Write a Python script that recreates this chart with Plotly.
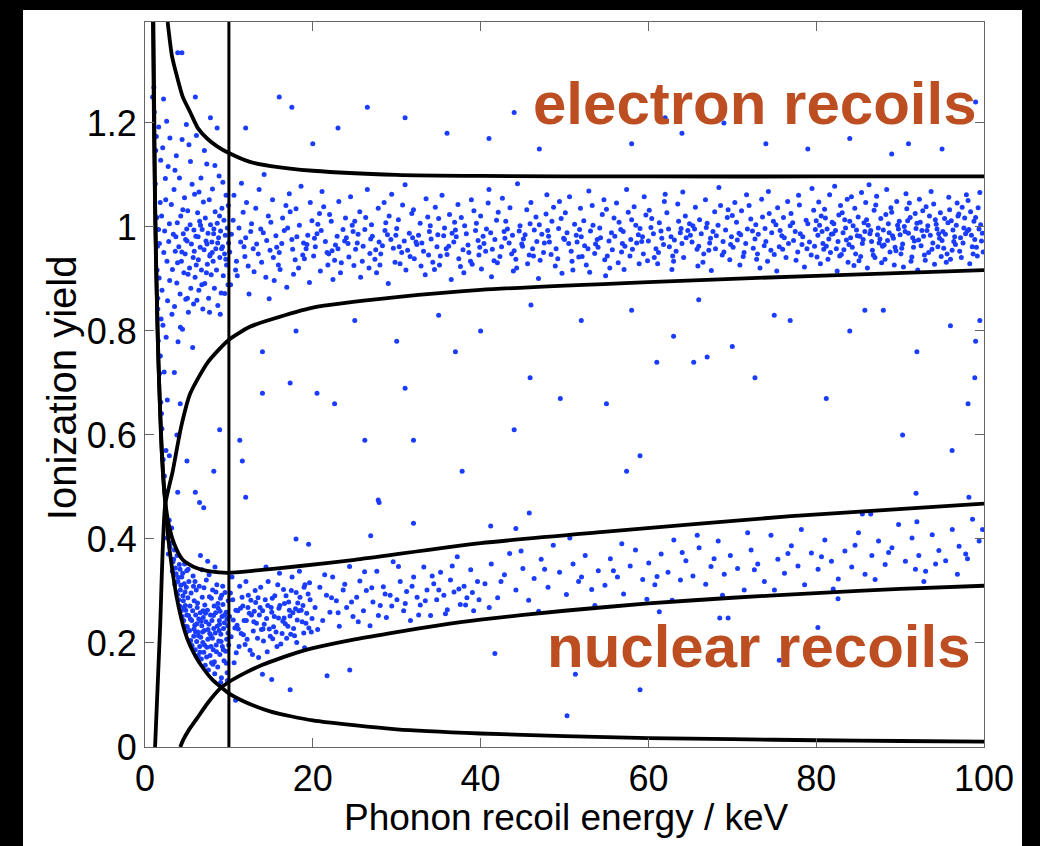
import plotly.graph_objects as go

# ---------------- data ----------------
x_ticks = [0, 20, 40, 60, 80, 100]
x_tick_labels = ["0", "20", "40", "60", "80", "100"]
y_ticks = [0, 0.2, 0.4, 0.6, 0.8, 1.0, 1.2]
y_tick_labels = ["0", "0.2", "0.4", "0.6", "0.8", "1", "1.2"]

# electron-recoil band points (energy keV, yield)
er_points = [
    (1.12,1.221),(1.28,1.147),(1.23,1.083),(1.63,1.192),(1.41,1.018),(1.87,1.128),(2.21,1.246),(1.72,0.968),(2.47,1.052),(1.44,0.917),
    (2.03,0.878),(1.53,0.842),(2.76,1.116),(1.81,1.047),(2.34,0.992),(1.58,0.781),(2.62,0.934),(1.74,0.718),(2.91,1.006),(1.88,0.663),
    (2.14,0.811),(2.02,0.612),(2.69,0.858),(2.17,0.553),(2.43,1.093),(1.69,0.902),(2.24,0.951),(1.52,0.863),(1.98,1.021),(1.49,0.963),
    (2.83,0.972),(1.83,0.752),(2.42,0.492),(2.31,0.521),(2.52,0.788),(1.96,0.641),(2.94,0.897),(1.06,1.268),(2.97,1.171),(2.58,1.203),
    (1.35,1.174),(1.92,0.823),(2.28,0.721),(2.66,0.667),(1.62,0.995),(2.11,1.152),
    (3.14,1.043),(3.27,0.918),(3.38,0.986),(3.46,1.072),(3.52,0.847),(3.61,0.953),(3.73,1.137),(3.79,0.892),(3.85,1.008),(3.94,0.779),
    (4.03,0.962),(4.11,1.094),(4.18,0.871),(4.26,1.021),(4.34,0.934),(4.42,1.168),(4.47,0.803),(4.56,0.987),(4.63,0.912),(4.71,1.056),
    (4.79,0.948),(4.86,0.861),(4.93,1.197),(5.02,0.973),(5.09,1.031),(5.17,0.836),(5.24,1.158),(5.31,0.921),(5.38,1.004),(5.46,0.882),
    (5.53,0.967),(5.61,1.082),(5.68,0.768),(5.74,0.941),(5.83,0.994),(5.91,1.063),(5.97,0.903),(6.06,0.982),(6.13,1.176),(6.19,0.859),
    (6.27,1.027),(6.36,0.937),(6.42,0.878),(6.51,1.011),(6.58,0.961),(6.67,1.094),(6.73,0.917),(6.81,0.995),(6.89,0.842),(6.96,1.048),
    (7.04,0.956),(7.12,0.891),(7.19,1.017),(7.27,0.973),(7.36,1.121),(7.43,0.928),(7.51,0.988),(7.58,0.863),(7.66,1.052),(7.72,0.944),
    (7.81,1.004),(7.89,0.908),(7.97,0.971),(8.04,1.073),(8.12,0.934),(8.21,0.996),(8.27,0.882),(8.36,1.029),(8.44,0.958),(8.52,0.917),
    (8.61,1.007),(8.68,0.849),(8.77,0.979),(8.83,1.098),(8.92,0.941),(9.01,0.992),(9.08,0.873),(9.17,1.036),(9.24,0.962),(9.33,0.906),
    (9.41,1.013),(9.48,0.948),(9.57,0.984),(9.66,1.061),(9.72,0.927),(9.81,0.998),(9.89,0.889),(9.96,0.969),
    (3.21,0.832),(3.57,1.109),(3.88,0.931),(4.22,0.807),(4.51,1.033),(4.84,0.976),(5.13,0.909),(5.42,1.126),(5.79,0.852),(6.11,0.927),
    (6.44,1.067),(6.77,0.889),(7.08,1.147),(7.39,0.967),(7.69,0.836),(8.01,0.951),(8.33,1.118),(8.66,0.969),(8.97,0.832),(9.28,1.086),
    (9.63,0.938),(9.93,1.041),(3.68,0.981),(4.39,0.952),(5.06,0.863),(5.87,0.953),(6.62,1.003),(7.32,0.912),(8.18,0.987),(8.89,1.021),
    (9.51,0.872),(4.97,0.996),(6.33,0.981),(7.77,0.947),(9.13,0.958),
    (10.1,0.952),(10.5,1.013),(10.8,0.917),(10.3,0.986),(10.6,1.061),(10.9,0.934),(10.2,0.889),
    (11.4,0.971),(11.7,1.028),(11.0,0.906),(11.2,0.998),(11.9,0.943),(11.5,1.084),(11.8,0.962),
    (12.3,0.925),(12.6,0.991),(12.1,1.047),(12.9,0.958),(12.4,0.871),(12.7,1.006),(12.0,0.979),
    (13.2,1.036),(13.5,0.948),(13.8,0.996),(13.0,0.914),(13.6,1.072),(13.3,0.967),(13.9,0.932),
    (14.1,0.989),(14.4,0.903),(14.7,1.021),(14.9,0.955),(14.2,1.101),(14.5,0.974),(14.8,0.862),
    (15.3,0.941),(15.0,1.009),(15.6,0.983),(15.9,0.927),(15.2,1.052),(15.7,0.961),(15.4,0.897),
    (16.6,0.993),(16.1,0.918),(16.8,1.041),(16.3,0.968),(16.9,0.884),(16.4,1.017),(16.0,0.951),
    (17.5,0.976),(17.2,1.064),(17.9,0.937),(17.0,0.998),(17.7,0.909),(17.3,1.029),(17.6,0.957),
    (18.4,1.003),(18.8,0.946),(18.1,0.981),(18.6,1.078),(18.3,0.921),(18.9,0.969),(18.0,1.035),
    (19.2,0.958),(19.6,0.893),(19.9,1.012),(19.4,0.984),(19.0,0.939),(19.7,1.047),(19.3,0.966),
    (20.5,0.987),(20.1,0.944),(20.8,1.026),(20.3,0.962),(20.9,0.915),(20.6,1.005),(20.2,0.978),
    (21.7,0.951),(21.3,1.039),(21.0,0.993),(21.8,0.927),(21.5,0.972),(21.1,1.068),(21.9,0.948),
    (22.2,1.011),(22.6,0.936),(22.9,0.982),(22.4,0.899),(22.0,1.024),(22.7,0.965),(22.3,0.954),
    (23.8,0.973),(23.1,1.049),(23.4,0.931),(23.6,0.995),(23.0,0.958),(23.9,1.017),(23.3,0.912),
    (24.3,0.942),(24.7,1.003),(24.0,0.979),(24.9,0.926),(24.5,1.058),(24.2,0.968),(24.8,0.991),
    (25.6,1.029),(25.1,0.957),(25.9,0.934),(25.4,0.986),(25.0,1.011),(25.7,0.903),(25.3,0.969),
    (26.2,0.995),(26.8,0.949),(26.5,1.072),(26.0,0.963),(26.7,0.921),(26.3,1.018),(26.9,0.977),
    (27.4,0.938),(27.1,0.982),(27.8,1.036),(27.5,0.956),(27.0,1.004),(27.6,0.912),(27.9,0.971),
    (28.7,1.008),(28.3,0.964),(28.0,0.927),(28.9,0.985),(28.5,1.047),(28.1,0.948),(28.6,0.993),
    (29.3,0.976),(29.8,0.932),(29.1,1.021),(29.6,0.959),(29.0,0.891),(29.4,1.063),(29.9,0.984),
    (30.6,0.951),(30.2,1.014),(30.9,0.973),(30.4,0.929),(30.0,0.997),(30.7,1.042),(30.3,0.962),
    (31.5,0.988),(31.1,0.917),(31.8,1.026),(31.3,0.955),(31.9,0.979),(31.6,0.943),(31.0,1.081),
    (32.4,0.966),(32.8,1.007),(32.1,0.939),(32.6,0.984),(32.0,1.033),(32.9,0.925),(32.3,0.971),
    (33.7,1.019),(33.2,0.953),(33.9,0.991),(33.4,0.908),(33.0,0.969),(33.5,1.054),(33.8,0.946),
    (34.1,0.977),(34.6,1.038),(34.3,0.932),(34.8,0.962),(34.0,1.002),(34.5,0.918),(34.9,0.985),
    (35.2,0.944),(35.7,0.998),(35.4,1.061),(35.9,0.958),(35.1,0.927),(35.6,0.983),(35.0,1.016),
    (36.8,0.971),(36.3,1.024),(36.0,0.947),(36.5,0.899),(36.9,1.009),(36.2,0.963),(36.6,0.988),
    (37.3,1.043),(37.9,0.956),(37.1,0.981),(37.6,0.924),(37.0,0.994),(37.7,1.018),(37.4,0.939),
    (38.5,0.965),(38.1,1.002),(38.8,0.934),(38.3,0.987),(38.9,1.052),(38.6,0.951),(38.0,0.912),
    (39.4,0.993),(39.8,0.946),(39.2,1.031),(39.7,0.974),(39.0,0.928),(39.5,1.007),(39.9,0.961),
    (40.3,0.982),(40.9,1.046),(40.6,0.953),(40.1,0.919),(40.7,0.996),(40.4,0.968),(40.0,1.021),
    (41.6,0.935),(41.2,0.989),(41.9,1.013),(41.4,0.957),(41.0,1.072),(41.7,0.976),(41.3,0.904),
    (42.1,1.028),(42.5,0.962),(42.8,0.991),(42.3,0.943),(42.9,0.978),(42.6,1.055),(42.0,0.931),
    (43.4,0.969),(43.0,1.011),(43.7,0.948),(43.2,0.996),(43.9,0.915),(43.5,1.037),(43.8,0.984),
    (44.7,1.002),(44.2,0.938),(44.9,0.967),(44.4,1.083),(44.0,0.954),(44.6,0.992),(44.3,0.921),
    (45.1,0.977),(45.5,1.033),(45.8,0.946),(45.3,0.985),(45.9,1.006),(45.6,0.929),(45.0,0.963),
    (46.6,1.019),(46.2,0.958),(46.9,0.901),(46.4,0.994),(46.0,1.047),(46.7,0.972),(46.3,0.944),
    (47.3,0.986),(47.8,1.025),(47.1,0.936),(47.6,0.969),(47.0,1.004),(47.5,0.951),(47.9,1.062),
    (48.4,0.947),(48.0,0.993),(48.7,1.038),(48.2,0.971),(48.9,0.925),(48.5,1.011),(48.1,0.982),
    (49.6,1.016),(49.2,0.939),(49.9,0.978),(49.4,1.049),(49.0,0.958),(49.7,0.911),(49.3,0.997),
    (50.5,0.968),(50.1,1.027),(50.8,0.953),(50.3,0.989),(50.9,0.934),(50.6,1.058),(50.0,0.976),
    (51.2,1.005),(51.7,0.942),(51.4,0.984),(51.9,1.036),(51.0,0.917),(51.5,0.971),(51.8,0.995),
    (52.8,0.958),(52.3,1.012),(52.0,0.981),(52.6,0.927),(52.9,1.069),(52.4,0.964),(52.1,0.943),
    (53.1,0.992),(53.6,0.949),(53.3,1.041),(53.9,0.976),(53.0,0.913),(53.4,1.003),(53.7,0.967),
    (54.5,1.024),(54.0,0.961),(54.8,0.937),(54.2,0.998),(54.7,1.052),(54.3,0.979),(54.9,0.906),
    (55.3,0.973),(55.9,1.017),(55.1,0.944),(55.6,0.989),(55.0,1.034),(55.7,0.956),(55.4,0.921),
    (56.7,0.995),(56.2,1.046),(56.9,0.968),(56.4,0.931),(56.0,0.982),(56.5,1.009),(56.8,0.952),
    (57.2,0.963),(57.6,1.028),(57.0,0.991),(57.8,0.944),(57.4,1.072),(57.9,0.976),(57.1,0.918),
    (58.5,1.003),(58.1,0.957),(58.8,0.985),(58.3,1.039),(58.9,0.929),(58.6,0.969),(58.0,1.014),
    (59.4,0.948),(59.0,0.997),(59.7,1.023),(59.2,0.972),(59.9,0.935),(59.5,1.058),(59.3,0.981),
    (60.6,0.987),(60.1,1.032),(60.9,0.958),(60.3,0.999),(60.7,0.941),(60.4,1.016),(60.0,0.973),
    (61.3,1.008),(61.8,0.966),(61.1,0.929),(61.5,0.992),(61.9,1.049),(61.6,0.978),(61.2,0.951),
    (62.7,0.981),(62.2,1.027),(62.9,0.944),(62.4,0.996),(62.0,1.063),(62.5,0.962),(62.8,0.918),
    (63.1,0.975),(63.6,1.011),(63.3,0.953),(63.8,0.989),(63.0,0.934),(63.5,1.044),(63.9,0.997),
    (64.4,1.021),(64.0,0.968),(64.7,0.993),(64.2,0.941),(64.9,1.006),(64.5,0.979),(64.1,1.067),
    (65.8,0.957),(65.3,1.002),(65.0,0.984),(65.6,1.038),(65.9,0.925),(65.2,0.971),(65.5,0.996),
    (66.1,1.014),(66.6,0.948),(66.3,0.987),(66.8,1.052),(66.0,0.963),(66.5,0.932),(66.9,0.999),
    (67.4,0.978),(67.9,1.029),(67.2,0.955),(67.7,0.991),(67.0,1.007),(67.5,0.916),(67.3,0.969),
    (68.6,1.041),(68.1,0.983),(68.8,0.946),(68.3,1.003),(68.9,0.972),(68.4,1.076),(68.0,0.958),
    (69.2,0.994),(69.7,0.937),(69.4,1.018),(69.9,0.981),(69.0,0.952),(69.5,1.033),(69.8,0.966),
    (70.5,1.009),(70.1,0.961),(70.8,0.988),(70.3,1.047),(70.9,0.927),(70.6,0.975),(70.0,1.022),
    (71.3,0.943),(71.8,0.996),(71.1,1.031),(71.6,0.968),(71.0,0.985),(71.7,1.062),(71.4,0.951),
    (72.7,0.977),(72.2,1.015),(72.9,0.938),(72.4,0.992),(72.0,1.041),(72.5,0.959),(72.8,1.004),
    (73.1,0.986),(73.5,1.053),(73.8,0.964),(73.3,0.921),(73.9,0.997),(73.6,1.019),(73.0,0.948),
    (74.4,1.026),(74.0,0.972),(74.7,0.989),(74.2,0.934),(74.9,1.011),(74.6,0.955),(74.3,1.068),
    (75.6,0.962),(75.2,1.004),(75.9,0.983),(75.4,1.037),(75.0,0.947),(75.7,0.993),(75.3,0.915),
    (76.1,1.018),(76.7,0.968),(76.4,0.941),(76.9,1.002),(76.2,0.979),(76.6,1.049),(76.0,0.957),
    (77.5,0.991),(77.0,1.026),(77.8,0.952),(77.3,0.974),(77.9,1.061),(77.6,0.936),(77.2,1.008),
    (78.3,0.966),(78.8,1.013),(78.1,0.987),(78.6,0.923),(78.0,1.042),(78.4,0.981),(78.9,0.958),
    (79.7,1.032),(79.2,0.971),(79.9,0.995),(79.4,0.946),(79.0,1.006),(79.5,1.074),(79.8,0.963),
    (80.2,0.984),(80.6,1.021),(80.9,0.957),(80.4,1.003),(80.1,0.942),(80.7,0.991),(80.3,1.048),(80.8,0.968),(80.0,1.012),(80.5,0.929),
    (81.3,0.996),(81.7,0.951),(81.0,1.034),(81.5,0.977),(81.9,1.009),(81.2,0.963),(81.6,1.062),(81.4,0.938),(81.8,0.986),(81.1,1.017),
    (82.6,0.972),(82.1,1.006),(82.8,0.944),(82.3,0.993),(82.9,1.041),(82.4,0.958),(82.0,0.987),(82.7,1.023),(82.5,0.915),(82.2,1.078),
    (83.4,1.014),(83.9,0.966),(83.2,0.989),(83.7,1.053),(83.0,0.947),(83.5,0.998),(83.8,0.932),(83.1,1.027),(83.6,0.975),(83.3,0.956),
    (84.1,0.979),(84.6,1.036),(84.3,0.961),(84.8,0.994),(84.0,1.011),(84.5,0.926),(84.9,0.983),(84.2,1.058),(84.7,0.948),(84.4,1.002),
    (85.5,0.968),(85.0,1.019),(85.8,0.991),(85.3,0.943),(85.9,1.047),(85.6,0.976),(85.1,0.935),(85.7,1.008),(85.2,0.982),(85.4,1.066),
    (86.2,1.003),(86.7,0.955),(86.4,0.987),(86.9,1.032),(86.1,0.921),(86.6,0.972),(86.0,1.014),(86.8,0.946),(86.3,1.081),(86.5,0.993),
    (87.6,0.977),(87.1,1.042),(87.9,0.963),(87.4,0.998),(87.0,0.941),(87.7,1.016),(87.3,0.985),(87.8,0.931),(87.2,1.059),(87.5,0.969),
    (88.3,1.024),(88.8,0.952),(88.0,0.994),(88.5,0.974),(88.9,1.037),(88.2,0.938),(88.6,1.006),(88.1,0.965),(88.7,0.989),(88.4,1.072),
    (89.4,0.961),(89.9,1.011),(89.1,0.983),(89.6,1.049),(89.3,0.927),(89.8,0.996),(89.0,1.028),(89.5,0.954),(89.2,0.978),(89.7,1.003),
    (90.6,0.991),(90.1,0.948),(90.8,1.035),(90.3,0.967),(90.9,1.012),(90.4,0.923),(90.0,0.985),(90.7,1.064),(90.2,0.959),(90.5,1.001),
    (91.2,1.018),(91.7,0.973),(91.4,0.942),(91.9,0.997),(91.1,1.046),(91.6,0.961),(91.0,0.988),(91.8,1.026),(91.3,0.934),(91.5,0.979),
    (92.5,0.964),(92.0,1.007),(92.8,0.982),(92.3,1.053),(92.9,0.946),(92.6,0.993),(92.1,0.917),(92.7,1.031),(92.2,0.975),(92.4,1.009),
    (93.3,1.002),(93.8,0.957),(93.1,1.039),(93.6,0.984),(93.0,0.936),(93.5,1.021),(93.9,0.969),(93.2,0.993),(93.7,1.068),(93.4,0.951),
    (94.7,0.978),(94.2,1.014),(94.9,0.943),(94.4,0.996),(94.0,1.044),(94.5,0.962),(94.8,1.027),(94.1,0.928),(94.6,0.987),(94.3,1.005),
    (95.4,0.986),(95.9,1.033),(95.2,0.959),(95.7,1.008),(95.0,0.974),(95.5,0.932),(95.8,1.057),(95.1,0.991),(95.6,0.948),(95.3,1.016),
    (96.1,1.012),(96.6,0.966),(96.3,0.994),(96.8,1.046),(96.0,0.938),(96.5,0.981),(96.9,1.021),(96.2,0.955),(96.7,1.003),(96.4,0.972),
    (97.5,0.969),(97.0,1.025),(97.8,0.987),(97.3,0.941),(97.9,1.062),(97.6,0.998),(97.1,0.953),(97.7,1.017),(97.2,0.979),(97.4,1.038),
    (98.2,0.995),(98.7,0.948),(98.4,1.029),(98.9,0.976),(98.1,1.051),(98.6,0.962),(98.0,0.992),(98.8,1.011),(98.3,0.929),(98.5,0.984),
    (99.6,1.004),(99.1,0.961),(99.8,0.988),(99.3,1.037),(99.9,0.952),(99.4,0.996),(99.0,1.018),(99.7,0.973),(99.2,0.944),(99.5,1.066),
]

# nuclear-recoil band points
nr_points = [
    (2.63,0.402),(2.78,0.371),(2.97,0.384),(3.08,0.392),(3.26,0.338),(3.41,0.361),(3.47,0.331),(3.62,0.344),(3.74,0.297),(3.83,0.368),
    (3.91,0.318),(4.02,0.283),(4.09,0.351),(4.21,0.302),(4.33,0.262),(4.38,0.327),(4.52,0.291),(4.61,0.243),(4.68,0.314),(4.81,0.272),
    (4.89,0.232),(4.97,0.339),(3.18,0.421),(3.56,0.313),(3.98,0.326),(4.43,0.251),(4.77,0.298),(2.88,0.436),(3.51,0.379),(4.99,0.254),
    (4.57,0.281),(4.96,0.221),(4.86,0.263),(4.13,0.271),(3.88,0.293),(4.49,0.334),(3.33,0.356),(4.72,0.352),(3.71,0.333),(4.27,0.311),
    (4.63,0.268),(4.92,0.307),(3.02,0.407),(4.17,0.342),
    (5.04,0.231),(5.11,0.287),(5.19,0.253),(5.23,0.318),(5.31,0.224),(5.36,0.271),(5.44,0.205),(5.49,0.296),(5.57,0.243),(5.62,0.194),
    (5.68,0.262),(5.73,0.329),(5.81,0.213),(5.86,0.281),(5.93,0.234),(5.99,0.187),(6.04,0.254),(6.11,0.302),(6.16,0.203),(6.22,0.268),
    (6.29,0.221),(6.34,0.176),(6.41,0.246),(6.47,0.309),(6.52,0.193),(6.58,0.258),(6.64,0.211),(6.71,0.169),(6.77,0.233),(6.82,0.288),
    (6.89,0.201),(6.94,0.249),(7.01,0.182),(7.07,0.224),(7.13,0.273),(7.18,0.157),(7.26,0.241),(7.31,0.321),(7.38,0.192),(7.44,0.263),
    (7.49,0.207),(7.56,0.148),(7.62,0.236),(7.68,0.289),(7.75,0.176),(7.81,0.254),(7.86,0.214),(7.93,0.162),(7.98,0.243),(8.06,0.302),
    (8.13,0.187),(8.19,0.228),(8.24,0.271),(8.31,0.141),(8.37,0.219),(8.42,0.258),(8.49,0.196),(8.56,0.312),(8.61,0.232),(8.67,0.154),
    (8.73,0.267),(8.79,0.204),(8.86,0.243),(8.92,0.178),(8.99,0.286),(9.04,0.217),(9.11,0.133),(9.17,0.251),(9.22,0.193),(9.29,0.274),
    (9.36,0.228),(9.42,0.166),(9.47,0.239),(9.54,0.297),(9.61,0.184),(9.67,0.259),(9.73,0.207),(9.79,0.143),(9.86,0.233),(9.92,0.281),
    (9.97,0.196),
    (5.14,0.342),(5.52,0.196),(5.96,0.318),(6.37,0.214),(6.79,0.341),(7.21,0.257),(7.64,0.331),(8.03,0.209),(8.46,0.298),(8.84,0.224),
    (9.26,0.309),(9.69,0.161),(5.41,0.246),(5.84,0.227),(6.26,0.277),(6.68,0.242),(7.09,0.196),(7.51,0.226),(7.91,0.286),(8.27,0.164),
    (8.69,0.276),(9.07,0.203),(9.49,0.254),(9.83,0.128),(6.61,0.368),(7.47,0.357),(8.34,0.346),(9.02,0.124),(5.27,0.203),(5.78,0.309),
    (6.19,0.237),(6.55,0.182),(6.92,0.262),(7.34,0.173),(7.72,0.218),(8.16,0.253),(8.52,0.183),(8.95,0.261),(9.33,0.187),(9.76,0.246),
    (6.03,0.221),(7.03,0.306),(8.09,0.159),(9.14,0.292),(6.86,0.221),(7.87,0.193),(8.89,0.236),(9.89,0.219),
    (10.08,0.251),(10.27,0.212),(10.46,0.283),(10.71,0.229),(10.88,0.181),(11.06,0.262),(11.29,0.309),(11.47,0.218),(11.66,0.271),(11.93,0.197),
    (12.08,0.243),(12.31,0.292),(12.52,0.186),(12.69,0.254),(12.91,0.223),(13.13,0.301),(13.28,0.238),(13.54,0.172),(13.72,0.268),(13.88,0.226),
    (14.12,0.204),(14.33,0.283),(14.49,0.247),(14.68,0.318),(14.93,0.213),(15.11,0.259),(15.32,0.231),(15.47,0.291),(15.73,0.193),(15.91,0.248),
    (16.07,0.272),(16.34,0.218),(16.51,0.303),(16.72,0.237),(16.88,0.209),(17.12,0.279),(17.29,0.252),(17.53,0.327),(17.71,0.228),(17.94,0.266),
    (18.08,0.201),(18.32,0.262),(18.47,0.288),(18.73,0.241),(18.92,0.219),(19.06,0.312),(19.27,0.257),(19.53,0.229),(19.68,0.283),(19.91,0.247),
    (10.18,0.296),(10.62,0.162),(10.97,0.234),(11.38,0.267),(11.81,0.243),(12.17,0.207),(12.62,0.282),(13.02,0.261),(13.41,0.209),(13.79,0.307),
    (14.21,0.236),(14.57,0.183),(15.04,0.268),(15.41,0.251),(15.82,0.312),(16.19,0.198),(16.62,0.276),(17.03,0.232),(17.44,0.301),(17.82,0.214),
    (18.21,0.277),(18.62,0.263),(19.02,0.191),(19.44,0.294),(19.82,0.221),
    (10.37,0.327),(11.21,0.193),(12.03,0.318),(12.81,0.178),(13.63,0.254),(14.42,0.346),(15.22,0.208),(16.03,0.334),(16.81,0.291),(17.63,0.258),
    (18.41,0.338),(19.18,0.238),(10.83,0.263),(11.57,0.288),(12.43,0.257),(13.19,0.278),(14.02,0.262),(14.81,0.227),(15.62,0.221),(16.43,0.242),
    (17.21,0.263),(18.02,0.297),(18.83,0.272),(19.61,0.316),(10.52,0.244),(11.12,0.227),(11.73,0.216),(12.27,0.268),(12.97,0.241),(13.47,0.287),
    (14.07,0.227),(14.63,0.272),(15.17,0.286),(15.96,0.267),(16.58,0.248),(17.37,0.217),(18.14,0.244),(18.96,0.307),
    (20.27,0.268),(20.84,0.307),(21.18,0.243),(21.63,0.292),(22.04,0.259),(22.37,0.327),(22.81,0.281),(23.16,0.232),(23.62,0.302),(24.03,0.268),
    (24.38,0.347),(24.79,0.251),(25.23,0.288),(25.61,0.319),(26.04,0.262),(26.38,0.301),(26.82,0.233),(27.17,0.279),(27.63,0.338),(28.04,0.272),
    (28.41,0.308),(28.77,0.249),(29.22,0.292),(29.58,0.356),(30.03,0.283),(30.42,0.318),(30.83,0.262),(31.18,0.299),(31.64,0.243),(32.02,0.327),
    (32.43,0.288),(32.81,0.273),(33.23,0.346),(33.61,0.302),(34.04,0.253),(34.42,0.314),(34.77,0.283),(35.23,0.336),(35.62,0.292),(36.03,0.264),
    (36.41,0.321),(36.83,0.298),(37.22,0.366),(37.58,0.274),(38.03,0.309),(38.37,0.287),(38.82,0.341),(39.17,0.262),(39.63,0.318),
    (20.58,0.226),(21.42,0.331),(22.23,0.287),(23.02,0.258),(23.81,0.313),(24.62,0.279),(25.42,0.241),(26.17,0.337),(27.03,0.306),(27.82,0.253),
    (28.62,0.294),(29.41,0.271),(30.21,0.347),(31.02,0.276),(31.83,0.309),(32.62,0.254),(33.41,0.281),(34.23,0.329),(35.02,0.302),(35.81,0.256),
    (36.62,0.348),(37.41,0.304),(38.21,0.273),(39.02,0.297),(39.81,0.283),
    (40.52,0.314),(41.27,0.352),(42.03,0.287),(42.84,0.331),(43.46,0.372),(44.21,0.302),(45.04,0.343),(45.73,0.282),(46.38,0.324),(47.22,0.361),
    (48.04,0.307),(48.66,0.388),(49.41,0.336),(50.23,0.293),(51.02,0.352),(51.68,0.318),(52.47,0.368),(53.24,0.303),(54.03,0.339),(54.82,0.311),
    (55.47,0.362),(56.31,0.327),(57.04,0.294),(57.83,0.348),(58.46,0.379),(59.32,0.322),(60.04,0.354),(60.77,0.312),(61.52,0.371),(62.34,0.336),
    (63.03,0.398),(63.82,0.321),(64.47,0.358),(65.31,0.329),(66.04,0.383),(66.83,0.313),(67.46,0.347),(68.32,0.396),(69.04,0.332),(69.77,0.368),
    (70.63,0.343),(71.42,0.302),(72.24,0.379),(73.03,0.352),(73.82,0.318),(74.61,0.407),(75.43,0.361),(76.22,0.334),(77.04,0.387),(77.83,0.348),
    (78.62,0.312),(79.43,0.373),(80.22,0.342),(81.03,0.398),(81.82,0.357),(82.63,0.323),(83.42,0.377),(84.23,0.346),(85.04,0.412),(85.82,0.332),
    (86.63,0.368),(87.43,0.396),(88.22,0.351),(89.03,0.383),(89.82,0.428),(90.63,0.357),(91.42,0.402),(92.23,0.368),(93.04,0.338),(93.83,0.408),
    (94.62,0.378),(95.43,0.358),(96.22,0.418),(97.03,0.386),(97.82,0.371),(98.63,0.438),(99.42,0.396),
    (41.03,0.268),(44.82,0.377),(46.92,0.261),(50.63,0.402),(53.62,0.272),(56.83,0.391),(59.82,0.284),(62.83,0.282),(65.82,0.407),(68.83,0.292),
    (71.83,0.412),(75.02,0.302),(78.23,0.418),(82.03,0.304),(87.02,0.322),(92.83,0.318),(96.83,0.332),
    (42.43,0.318),(47.63,0.342),(52.03,0.327),(55.83,0.339),(61.03,0.328),(64.03,0.374),(67.83,0.362),(72.63,0.341),(76.63,0.372),(80.63,0.366),
    (84.63,0.388),(88.63,0.374),(91.83,0.342),(94.23,0.352),(98.03,0.362),(99.83,0.418),
]

# isolated events between / outside the bands
stray_points = [
    (0.9,1.25),(3.9,1.335),(4.4,1.335),(6.0,1.25),(7.8,1.21),(8.6,1.19),
    (3.5,0.72),(4.2,0.66),(3.8,0.60),(2.5,0.57),(2.9,0.56),(3.9,0.49),(8.2,0.53),(8.9,0.61),(11.6,0.55),
    (6.0,0.49),(6.5,0.47),(7.0,0.46),(5.0,0.55),(12.0,0.48),
    (11.3,0.59),(14.0,0.68),(17.3,0.70),(20.5,0.68),(22.6,0.66),(26.2,0.59),(27.8,0.475),(31.0,0.69),(32.0,0.59),
    (37.0,0.76),(37.8,0.53),(44.0,0.61),(45.9,0.71),(49.5,0.67),(55.0,0.66),(57.4,0.53),(59.0,0.56),(65.4,0.74),
    (67.0,0.75),(72.7,0.71),(76.9,0.82),(81.2,0.67),(85.8,0.84),(90.3,0.60),(96.2,0.57),(98.1,0.66),(99.5,0.82),(98.9,0.71),
    (17.3,0.11),(21.7,0.137),(41.7,0.18),(50.3,0.06),(59.0,0.11),(51.3,0.14),(24.4,0.148),(14.0,0.14),(10.8,0.09),(15.1,0.13),
    (68.5,0.248),(69.5,0.248),(82.6,0.285),(80.2,0.23),(75.6,0.167),(61.3,0.26),
    (27.9,0.47),(32.0,0.43),(45.8,0.45),(41.2,0.425),(44.2,0.42),(91.9,0.488),(98.2,0.48),(92.0,0.433),(85.5,0.448),
    (86.5,0.448),(26.9,0.406),(19.5,0.39),(18.0,0.40),
    (40.0,0.80),(52.0,0.82),(63.0,0.79),(70.0,0.77),(75.0,0.83),(84.0,0.80),(88.0,0.84),(92.0,0.76),(96.0,0.81),(99.0,0.78),
    (35.0,0.83),(46.0,0.85),(58.0,0.84),(66.0,0.86),(25.0,0.82),(30.0,0.78),(18.0,0.80),(14.0,0.76),(61.0,0.74),
    (16.0,1.25),(17.5,1.23),(26.5,1.23),(23.0,1.19),(31.0,1.21),(36.0,1.18),(41.0,1.17),(47.0,1.15),(53.0,1.22),
    (58.0,1.16),(64.0,1.18),(69.0,1.20),(74.0,1.16),(79.0,1.15),(84.0,1.17),(89.0,1.14),(95.0,1.15),(99.0,1.24),
    (12.0,1.19),(20.0,1.16),(44.0,1.22),(62.0,1.21),(91.0,1.16),
]

# boundary curves (energy keV, yield)
threshold_e = [0.95, 1.1, 1.3, 1.6, 2.0, 2.5, 3.0, 4.0, 5.0, 6.0, 7.0, 8.0, 10, 12, 15, 20, 30, 40, 50, 60, 70, 80, 90, 100]
threshold_y = [1.394, 1.15, 0.94, 0.74, 0.57, 0.45, 0.37, 0.27, 0.21, 0.175, 0.15, 0.13, 0.103, 0.086, 0.068, 0.051, 0.034, 0.026, 0.021, 0.017, 0.015, 0.013, 0.0115, 0.0105]

nr_upper_e = [1.0, 1.2, 1.5, 1.9, 2.3, 2.8, 3.5, 4.5, 6.0, 8.0, 10, 13, 18.5, 25, 40, 55, 77, 100]
nr_upper_y = [1.394, 1.05, 0.80, 0.60, 0.49, 0.43, 0.39, 0.36, 0.345, 0.337, 0.335, 0.339, 0.348, 0.36, 0.392, 0.414, 0.444, 0.468]

nr_lower_e = [4.2, 4.6, 5.2, 6.2, 7.5, 9.0, 10, 12, 14, 16, 18, 20, 25, 30, 35, 40, 50, 60, 70, 80, 90, 100]
nr_lower_y = [0.0, 0.015, 0.032, 0.055, 0.085, 0.113, 0.125, 0.143, 0.158, 0.170, 0.181, 0.190, 0.207, 0.221, 0.234, 0.245, 0.262, 0.276, 0.287, 0.296, 0.304, 0.31]

er_lower_e = [1.2, 1.8, 2.4, 3.3, 4.3, 5.4, 7.5, 10, 12.5, 15, 20, 30, 40, 60, 80, 100]
er_lower_y = [0.0, 0.23, 0.465, 0.53, 0.615, 0.68, 0.74, 0.783, 0.808, 0.822, 0.845, 0.865, 0.879, 0.894, 0.906, 0.917]

er_upper_e = [2.7, 3.2, 3.8, 4.5, 5.4, 6.3, 7.4, 8.6, 10, 12.5, 15, 20, 30, 40, 60, 80, 100]
er_upper_y = [1.394, 1.33, 1.29, 1.25, 1.22, 1.19, 1.17, 1.155, 1.142, 1.125, 1.117, 1.108, 1.10, 1.098, 1.097, 1.097, 1.097]

cut_energy = [10, 10]
cut_yield = [0, 1.394]

label_color = "#BC4E22"
dot_color = "#1a3cff"
FONT = "Liberation Sans, Arial, Helvetica, sans-serif"

fig = go.Figure()

for pts in (er_points, nr_points, stray_points):
    fig.add_trace(go.Scatter(
        x=[p[0] for p in pts], y=[p[1] for p in pts], mode="markers",
        marker=dict(size=5, color=dot_color, line=dict(width=0)),
        showlegend=False, hoverinfo="skip"))

for xs, ys, w in ((threshold_e, threshold_y, 3.8), (nr_upper_e, nr_upper_y, 3.8),
                  (nr_lower_e, nr_lower_y, 3.8), (er_lower_e, er_lower_y, 3.8),
                  (er_upper_e, er_upper_y, 3.8), (cut_energy, cut_yield, 3)):
    fig.add_trace(go.Scatter(x=xs, y=ys, mode="lines",
                             line=dict(color="black", width=w, shape="spline", smoothing=0.6),
                             showlegend=False, hoverinfo="skip"))

axis_common = dict(showgrid=False, zeroline=False, showline=True, linecolor="#666666",
                   linewidth=1.2, mirror="ticks", ticks="inside", ticklen=9,
                   tickcolor="#666666", tickwidth=1.2,
                   tickfont=dict(family=FONT, size=36, color="black"))

fig.update_xaxes(range=[0, 100], tickvals=x_ticks, ticktext=x_tick_labels, **axis_common)
fig.update_yaxes(range=[0, 1.394], tickvals=y_ticks, ticktext=y_tick_labels, **axis_common)

fig.update_layout(
    width=1040, height=846,
    margin=dict(l=145, r=56, t=22, b=99),
    paper_bgcolor="black", plot_bgcolor="white",
    shapes=[dict(type="rect", xref="paper", yref="paper", layer="below",
                 x0=-0.1454, x1=1.0453, y0=-0.1366, y1=1.0166,
                 fillcolor="white", line=dict(width=0))],
    annotations=[
        dict(text="Phonon recoil energy / keV", xref="paper", yref="paper",
             x=0.5018, y=-0.0966, showarrow=False, xanchor="center", yanchor="middle",
             font=dict(family=FONT, size=37, color="black")),
        dict(text="Ionization yield", xref="paper", yref="paper", textangle=-90,
             x=-0.0989, y=0.495, showarrow=False, xanchor="center", yanchor="middle",
             font=dict(family=FONT, size=40, color="black")),
        dict(text="<b>electron recoils</b>", xref="paper", yref="paper",
             x=0.727, y=0.887, showarrow=False, xanchor="center", yanchor="middle",
             font=dict(family=FONT, size=60, color=label_color)),
        dict(text="<b>nuclear recoils</b>", xref="paper", yref="paper",
             x=0.7318, y=0.138, showarrow=False, xanchor="center", yanchor="middle",
             font=dict(family=FONT, size=60, color=label_color)),
    ],
)

fig.write_html("out.html")
